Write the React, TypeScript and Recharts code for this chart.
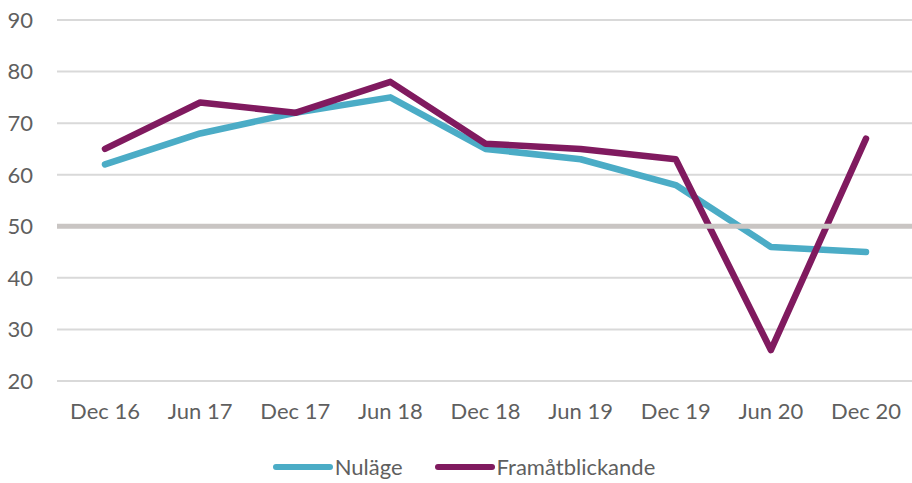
import { LineChart, Line, XAxis, YAxis, CartesianGrid, ReferenceLine, Legend } from "recharts";

const periods = ["Dec 16", "Jun 17", "Dec 17", "Jun 18", "Dec 18", "Jun 19", "Dec 19", "Jun 20", "Dec 20"];
const nulage = [62, 68, 72, 75, 65, 63, 58, 46, 45];
const framat = [65, 74, 72, 78, 66, 65, 63, 26, 67];
const yTicks = [20, 30, 40, 50, 60, 70, 80, 90];

const data = periods.map((p, i) => ({ period: p, nulage: nulage[i], framat: framat[i] }));

const FONT = "Lato, 'Open Sans', sans-serif";
const TEXT = "#5f5f5f";

const series = [
  { key: "nulage", name: "Nuläge", color: "#4BACC6" },
  { key: "framat", name: "Framåtblickande", color: "#801A5F" },
];

const LegendContent = () => (
  <div style={{ display: "flex", justifyContent: "center", alignItems: "center", gap: 32, fontFamily: FONT, fontSize: 22, color: TEXT, paddingLeft: 16 }}>
    {series.map((s) => (
      <div key={s.key} style={{ display: "flex", alignItems: "center" }}>
        <svg width={60} height={10}>
          <line x1={3} y1={5} x2={57} y2={5} stroke={s.color} strokeWidth={6} strokeLinecap="round" />
        </svg>
        <span style={{ marginLeft: 2 }}>{s.name}</span>
      </div>
    ))}
  </div>
);

export default function App() {
  return (
    <div style={{ position: "absolute", left: 0, top: 0, background: "#fff" }}>
      <LineChart width={912} height={483} data={data} margin={{ top: 20, right: 0, bottom: 0, left: 0 }}>
        <CartesianGrid vertical={false} stroke="#D9D9D9" strokeWidth={2} />
        <XAxis
          dataKey="period"
          axisLine={false}
          tickLine={false}
          tickSize={0}
          tickMargin={22}
          height={72}
          interval={0}
          padding={{ left: 48, right: 46 }}
          tick={{ fill: TEXT, fontSize: 22, fontFamily: FONT }}
        />
        <YAxis
          domain={[20, 90]}
          ticks={yTicks}
          axisLine={false}
          tickLine={false}
          tickSize={0}
          tickMargin={24}
          width={57}
          tick={{ fill: TEXT, fontSize: 22, fontFamily: FONT }}
        />
        <Legend verticalAlign="bottom" height={30} content={<LegendContent />} />
        {series.map((s) => (
          <Line
            key={s.key}
            type="linear"
            dataKey={s.key}
            name={s.name}
            stroke={s.color}
            strokeWidth={6.5}
            strokeLinecap="round"
            strokeLinejoin="round"
            dot={false}
            activeDot={false}
            isAnimationActive={false}
          />
        ))}
        <ReferenceLine y={50} stroke="#C9C5C3" strokeWidth={5} zIndex={1000} />
      </LineChart>
    </div>
  );
}
